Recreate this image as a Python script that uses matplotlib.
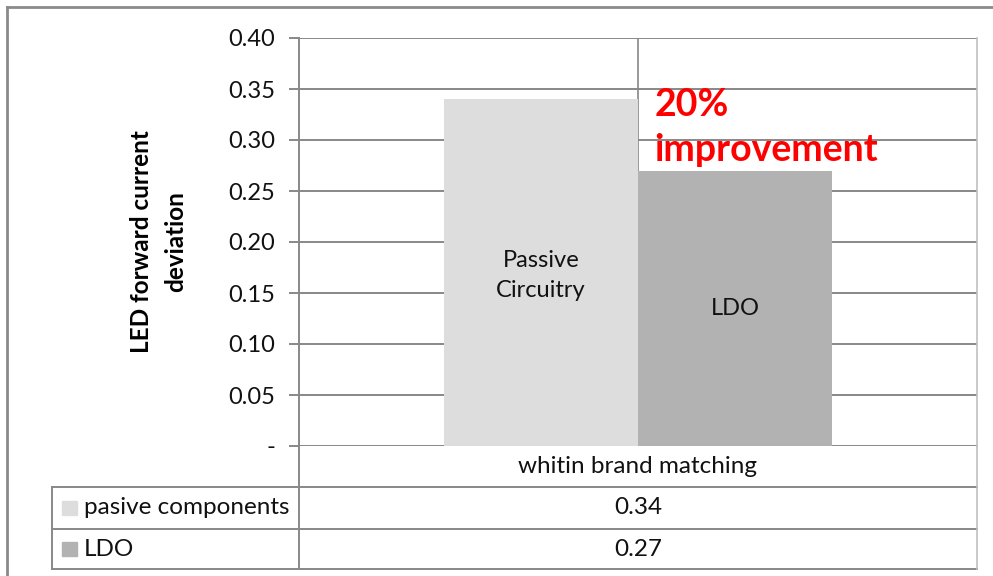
import matplotlib
matplotlib.use("Agg")
import matplotlib.pyplot as plt
from matplotlib.lines import Line2D
from matplotlib.patches import Rectangle

# Data
category = "whitin brand matching"
series_names = ["pasive components", "LDO"]
bar_labels = ["Passive\nCircuitry", "LDO"]
values = [0.34, 0.27]
colors = ["#DDDDDD", "#B2B2B2"]
yticks = [0.0, 0.05, 0.10, 0.15, 0.20, 0.25, 0.30, 0.35, 0.40]
ytick_labels = ["-", "0.05", "0.10", "0.15", "0.20", "0.25", "0.30", "0.35", "0.40"]
ylabel = "LED forward current\ndeviation"
note = "20%\nimprovement"

W, H = 993, 576
plt.rcParams["font.family"] = ["Lato", "DejaVu Sans"]
fig = plt.figure(figsize=(W / 100, H / 100), dpi=100)

grid_c = "#888888"
edge_c = "#C0C0C0"
txt_c = "#111111"

# Overlay in pixel coordinates for the frame and the data table
bg = fig.add_axes([0, 0, 1, 1], zorder=0)
bg.set_xlim(0, W)
bg.set_ylim(H, 0)
bg.axis("off")

# Plot area
L, R, T, B = 299, 977, 38, 446
ax = fig.add_axes([L / W, 1 - B / H, (R - L) / W, (B - T) / H], zorder=1)
ax.patch.set_alpha(0)
ax.set_xlim(-0.5, 0.5)
ax.set_ylim(0, 0.40)

# Gridlines
for y in yticks:
    ax.axhline(y, color=grid_c, lw=1.4, zorder=1)
ax.axvline(0, color=grid_c, lw=1.2, zorder=1)

# Bars
bw = 194 / (R - L)
xs = [-bw / 2, bw / 2]
ax.bar(xs, values, width=bw, color=colors, zorder=2)
ax.text(xs[0], 0.167, bar_labels[0], ha="center", va="center", fontsize=17,
        linespacing=1.5, color=txt_c, zorder=3)
ax.text(xs[1], 0.135, bar_labels[1], ha="center", va="center", fontsize=17,
        color=txt_c, zorder=3)

# Annotation
ax.text(0.024, 0.312, note, ha="left", va="center", fontsize=27, fontweight="bold",
        color="#FF0000", linespacing=1.4, zorder=4)

# Axes styling
for s in ["top", "bottom"]:
    ax.spines[s].set_visible(False)
ax.spines["left"].set_color(grid_c)
ax.spines["left"].set_linewidth(1.4)
ax.spines["right"].set_color(edge_c)
ax.spines["right"].set_linewidth(1.2)
ax.set_xticks([])
ax.set_yticks(yticks)
ax.set_yticklabels(ytick_labels, fontsize=17, color=txt_c)
ax.tick_params(axis="y", length=7, width=1.4, color=grid_c, pad=10)
ax.set_ylabel(ylabel, fontsize=17.5, fontweight="bold", labelpad=30, linespacing=1.55)

# Outer frame
bg.add_line(Line2D([7, 7], [7, H], color="#8a8a8a", lw=2))
bg.add_line(Line2D([7, W], [7, 7], color="#8a8a8a", lw=2))

# Data table
tl = 52
rows_y = [446, 487, 529, 569]
for y in rows_y[1:]:
    bg.add_line(Line2D([tl, R], [y, y], color=grid_c, lw=1.4))
bg.add_line(Line2D([L, L], [B, rows_y[-1]], color=grid_c, lw=1.4))
bg.add_line(Line2D([tl, tl], [rows_y[1], rows_y[-1]], color=grid_c, lw=1.4))
bg.add_line(Line2D([R, R], [B, rows_y[-1]], color=edge_c, lw=1.2))

cx = (L + R) / 2
bg.text(cx, (rows_y[0] + rows_y[1]) / 2, category, ha="center", va="center",
        fontsize=17.5, color=txt_c)
for i, (name, v, c) in enumerate(zip(series_names, values, colors)):
    yc = (rows_y[i + 1] + rows_y[i + 2]) / 2
    bg.add_patch(Rectangle((62, yc - 7), 15, 14, color=c))
    bg.text(84, yc, name, ha="left", va="center", fontsize=17.5, color=txt_c)
    bg.text(cx, yc, f"{v:.2f}", ha="center", va="center", fontsize=17.5, color=txt_c)

fig.savefig("out.png", dpi=100, facecolor="white")
